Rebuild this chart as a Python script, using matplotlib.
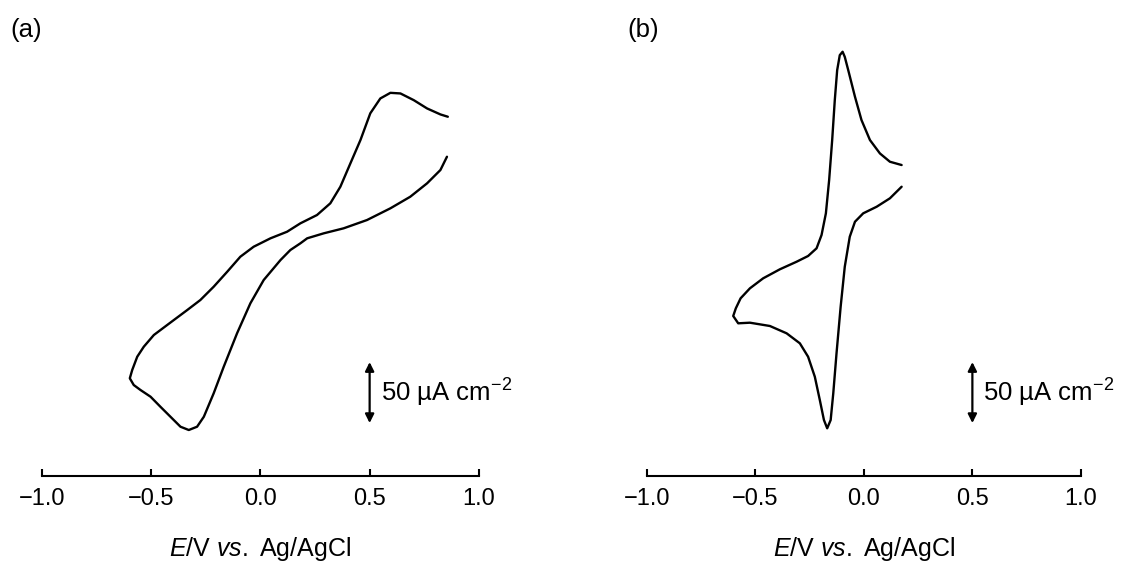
import matplotlib.pyplot as plt

plt.rcParams['font.family'] = ['Liberation Sans', 'DejaVu Sans']
plt.rcParams['mathtext.fontset'] = 'custom'
plt.rcParams['mathtext.rm'] = 'Liberation Sans'
plt.rcParams['mathtext.it'] = 'Liberation Sans:italic'

# panel (a): potential (V) and current density (uA cm-2), one continuous trace
e_a = [0.854, 0.824, 0.763, 0.686, 0.595, 0.488, 0.381, 0.290, 0.214, 0.183,
       0.137, 0.092, 0.015, -0.046, -0.107, -0.168, -0.214, -0.259, -0.290, -0.328,
       -0.366, -0.412, -0.458, -0.503, -0.549, -0.580, -0.598, -0.587, -0.564, -0.534,
       -0.488, -0.427, -0.335, -0.275, -0.214, -0.152, -0.092, -0.031, 0.046, 0.122,
       0.183, 0.259, 0.320, 0.366, 0.412, 0.458, 0.503, 0.549, 0.595, 0.641,
       0.702, 0.763, 0.824, 0.858]
i_a = [92.9, 82.0, 71.1, 60.1, 50.6, 41.0, 34.2, 30.1, 26.0, 21.9,
       16.4, 8.2, -8.2, -27.3, -51.9, -79.3, -101.1, -120.3, -128.5, -131.2,
       -128.5, -120.3, -112.1, -103.9, -98.4, -94.3, -88.8, -82.0, -71.1, -62.9,
       -53.3, -45.1, -32.8, -24.6, -13.7, -1.4, 10.9, 19.1, 26.0, 31.4,
       38.3, 45.1, 54.7, 68.3, 87.5, 106.6, 128.5, 140.7, 145.3, 144.8,
       139.3, 132.5, 127.6, 125.7]

# panel (b)
e_b = [0.174, 0.120, 0.074, 0.028, -0.011, -0.041, -0.072, -0.088, -0.098, -0.111,
       -0.123, -0.134, -0.146, -0.160, -0.175, -0.195, -0.218, -0.257, -0.310, -0.387,
       -0.464, -0.525, -0.568, -0.590, -0.602, -0.579, -0.525, -0.433, -0.356, -0.295,
       -0.257, -0.226, -0.203, -0.184, -0.169, -0.153, -0.141, -0.126, -0.107, -0.088,
       -0.065, -0.041, -0.003, 0.059, 0.120, 0.174]
i_b = [86.1, 88.8, 95.6, 106.6, 123.0, 142.1, 163.9, 174.8, 179.0, 176.2,
       163.9, 139.3, 106.6, 73.8, 46.5, 28.7, 17.8, 11.5, 6.8, 0.6,
       -6.8, -15.0, -23.2, -31.4, -37.7, -43.7, -43.2, -45.9, -51.9, -60.1,
       -71.1, -87.5, -106.6, -123.0, -129.8, -123.0, -101.1, -68.3, -30.1, 2.7,
       27.3, 39.6, 46.5, 51.9, 58.8, 68.3]

ticks = [-1.0, -0.5, 0.0, 0.5, 1.0]
tick_labels = ['\u22121.0', '\u22120.5', '0.0', '0.5', '1.0']
scale_bar = (-125.5, -75.5)   # 50 uA cm-2

fig = plt.figure(figsize=(11.23, 5.71), dpi=100)
ax_a = fig.add_axes([0.0374, 0.1664, 0.389, 0.781])
ax_b = fig.add_axes([0.576, 0.1664, 0.3865, 0.781])

for ax, e, i, tag, tx in [(ax_a, e_a, i_a, '(a)', 0.009), (ax_b, e_b, i_b, '(b)', 0.559)]:
    ax.plot(e, i, color='black', lw=1.7, solid_joinstyle='round', solid_capstyle='round')
    ax.set_xlim(-1.0, 1.0)
    ax.set_ylim(-168.9, 196.8)
    for s in ['top', 'left', 'right']:
        ax.spines[s].set_visible(False)
    ax.spines['bottom'].set_linewidth(1.5)
    ax.set_yticks([])
    ax.set_xticks(ticks)
    ax.set_xticklabels(tick_labels)
    ax.tick_params(axis='x', direction='in', length=5, width=1.5, pad=9, labelsize=17)
    ax.set_xlabel(r'$\mathit{E}$/V $\mathit{vs.}$ Ag/AgCl', fontsize=18, labelpad=18)
    ax.annotate('', xy=(0.5, scale_bar[0]), xytext=(0.5, scale_bar[1]),
                arrowprops=dict(arrowstyle='<|-|>', color='black', lw=1.6,
                                mutation_scale=13, shrinkA=0, shrinkB=0))
    ax.text(0.55, sum(scale_bar) / 2, r'50 µA cm$^{-2}$', fontsize=18.5,
            ha='left', va='center')
    fig.text(tx, 0.947, tag, fontsize=18.5, ha='left', va='center')

fig.savefig('out.png', dpi=100)
